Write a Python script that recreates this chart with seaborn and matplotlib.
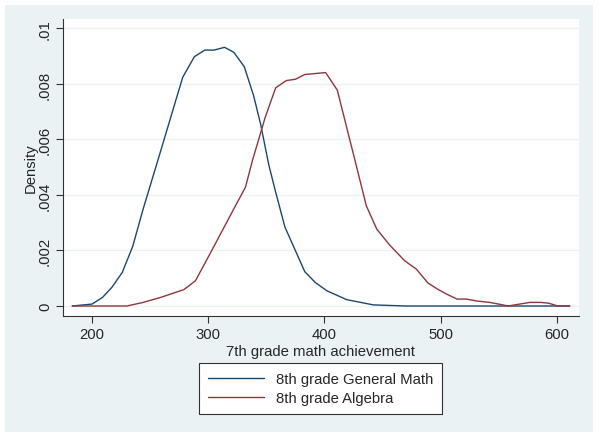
import matplotlib
matplotlib.use('Agg')
import matplotlib.pyplot as plt
import matplotlib.patches as mpatches
import pandas as pd
import seaborn as sns

# ── Data (kernel density nodes)
general_x = [183, 200, 209, 217, 226, 235, 244, 257, 278, 288, 297, 305, 314,
             322, 331, 339, 345, 352, 358, 366, 383, 392, 402, 419, 442, 470,
             520, 570, 611]
general_y = [0.0, 0.00007, 0.00031, 0.00067, 0.00121, 0.00215, 0.0035, 0.0053,
             0.00824, 0.00898, 0.00922, 0.00922, 0.00932, 0.00914, 0.00862,
             0.00758, 0.00656, 0.0051, 0.0041, 0.00284, 0.00124, 0.00085,
             0.00055, 0.00023, 0.00004, 0.0, 0.0, 0.0, 0.0]

algebra_x = [183, 230, 244, 259, 279, 289, 303, 322, 332, 338, 349, 358, 367,
             375, 383, 401, 411, 427, 436, 445, 456, 469, 479, 489, 498, 505,
             514, 522, 531, 542, 551, 558, 568, 577, 586, 593, 600, 611]
algebra_y = [0.0, 0.0, 0.00013, 0.00031, 0.00059, 0.00091, 0.002, 0.0035,
             0.00428, 0.00524, 0.0068, 0.00786, 0.00812, 0.00817, 0.00834,
             0.00841, 0.00778, 0.00512, 0.00361, 0.00277, 0.0022, 0.00163,
             0.00133, 0.00083, 0.00059, 0.00043, 0.00025, 0.00025, 0.00018,
             0.00013, 0.00006, 0.0, 0.00007, 0.00013, 0.00013, 0.0001,
             0.00001, 0.0]

series_names = ["8th grade General Math", "8th grade Algebra"]
x_ticks = [200, 300, 400, 500, 600]
y_ticks = [0, 0.002, 0.004, 0.006, 0.008, 0.01]
y_tick_labels = ["0", ".002", ".004", ".006", ".008", ".01"]

NAVY = "#1a476f"
MAROON = "#90353b"
PANEL = "#eaf2f3"

df = pd.concat([
    pd.DataFrame({"x": general_x, "y": general_y, "group": series_names[0]}),
    pd.DataFrame({"x": algebra_x, "y": algebra_y, "group": series_names[1]}),
])

sns.set_style("white")
plt.rcParams['font.family'] = ['Liberation Sans', 'DejaVu Sans']

W, H = 600, 439
fig = plt.figure(figsize=(W / 100, H / 100), dpi=100, facecolor="white")

# Stata-like outer graph region (behind the axes)
fig.patches.append(mpatches.Rectangle((5 / W, 1 - 433 / H), 588 / W, 427 / H,
                                      transform=fig.transFigure, facecolor=PANEL,
                                      edgecolor="none", zorder=-10))

ax = fig.add_axes([63 / W, 1 - 317 / H, 516 / W, 297 / H])
ax.set_facecolor("white")

sns.lineplot(data=df, x="x", y="y", hue="group", hue_order=series_names,
             palette=[NAVY, MAROON], linewidth=1.0, ax=ax, legend=False,
             sort=False, estimator=None)

ax.set_xlim(175, 619)
ax.set_ylim(-0.00036, 0.01034)
ax.set_xticks(x_ticks)
ax.set_yticks(y_ticks)
ax.set_yticklabels(y_tick_labels, rotation=90, va="center")
ax.tick_params(axis="both", direction="out", length=5, width=0.8, color="#333333",
               labelsize=10.7, pad=3, left=True, bottom=True)
ax.grid(axis="y", color=PANEL, linewidth=1.0)
ax.set_axisbelow(True)
for side in ["top", "right"]:
    ax.spines[side].set_visible(False)
for side in ["left", "bottom"]:
    ax.spines[side].set_color("#333333")
    ax.spines[side].set_linewidth(0.8)

ax.set_xlabel("7th grade math achievement", fontsize=10.7, labelpad=2)
ax.set_ylabel("Density", fontsize=10.7, labelpad=0)

handles = [plt.Line2D([], [], color=c, linewidth=1.0) for c in (NAVY, MAROON)]
leg = fig.legend(handles, series_names, loc="center",
                 bbox_to_anchor=(320.5 / W, 1 - 389.5 / H), ncol=1,
                 fontsize=10.7, frameon=True, fancybox=False, framealpha=1,
                 handlelength=3.8, handletextpad=0.8, borderpad=0.6,
                 labelspacing=0.3, borderaxespad=0)
leg.get_frame().set_edgecolor("#333333")
leg.get_frame().set_linewidth(0.8)
leg.get_frame().set_facecolor("white")

fig.savefig("out.png", dpi=100, facecolor="white")
